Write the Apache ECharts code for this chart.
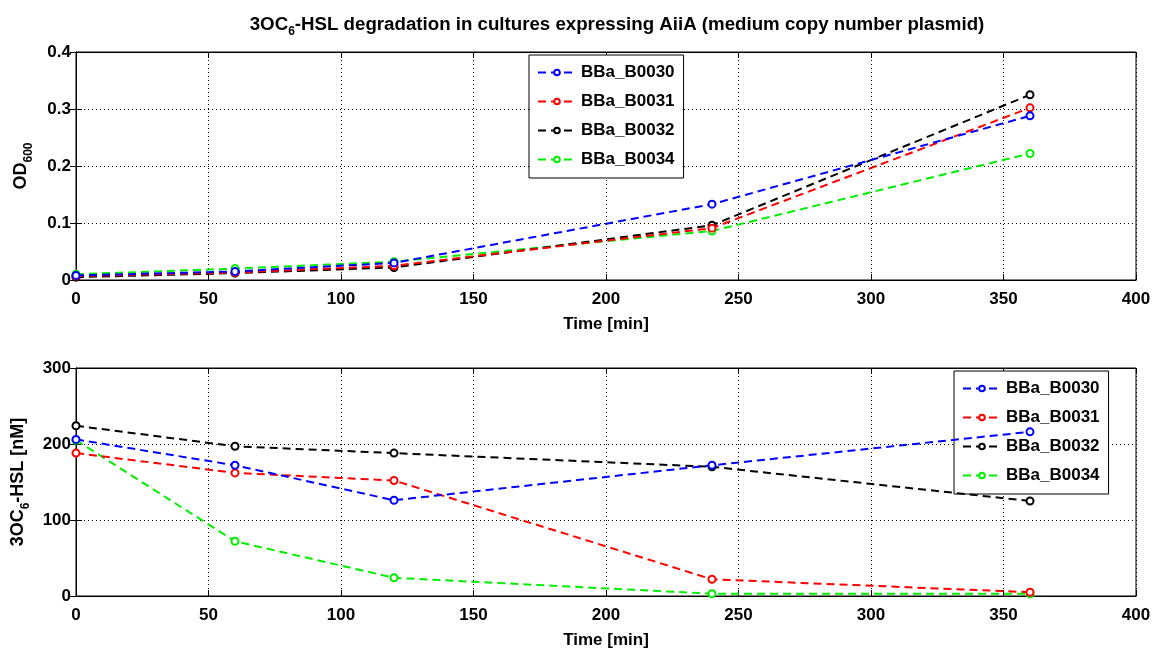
<!DOCTYPE html>
<html>
<head>
<meta charset="utf-8">
<script src="https://cdn.jsdelivr.net/npm/echarts@6/dist/echarts.min.js"></script>
<style>
  html, body { margin: 0; padding: 0; background: #fff; }
  #chart { width: 1162px; height: 653px; }
</style>
</head>
<body>
<div id="chart"></div>
<script>
// sampling times [min]
var times = [0, 60, 120, 240, 360]
var names = ['BBa_B0030', 'BBa_B0031', 'BBa_B0032', 'BBa_B0034']
var colors = ['#0000ff', '#ff0000', '#000000', '#00ee00']

// OD600
var odB0030 = [0.008, 0.015, 0.030, 0.133, 0.288]
var odB0031 = [0.007, 0.013, 0.025, 0.091, 0.302]
var odB0032 = [0.005, 0.012, 0.022, 0.096, 0.325]
var odB0034 = [0.010, 0.020, 0.032, 0.086, 0.222]

// 3OC6-HSL [nM]
var hslB0030 = [206, 172, 126, 172, 216]
var hslB0031 = [188, 162, 152, 22, 5]
var hslB0032 = [224, 197, 188, 170, 125]
var hslB0034 = [205, 72, 24, 3, 3]

var font = 'Liberation Sans, Arial, sans-serif'
var od = [odB0030, odB0031, odB0032, odB0034]
var hsl = [hslB0030, hslB0031, hslB0032, hslB0034]

function pairs (ys) {
  return times.map(function (t, i) { return [t, ys[i]] })
}

function xAxisFor (idx, withLabel) {
  return {
    type: 'value',
    gridIndex: idx,
    min: 0,
    max: 400,
    interval: 50,
    position: withLabel ? 'bottom' : 'top',
    name: withLabel ? 'Time [min]' : '',
    nameLocation: 'middle',
    nameGap: 36,
    nameTextStyle: { color: '#000', fontWeight: 'bold', fontSize: 17, fontFamily: font },
    axisLine: { show: true, onZero: false, lineStyle: { color: '#000', width: 1 } },
    axisTick: { show: true, inside: true, length: 6, lineStyle: { color: '#000' } },
    axisLabel: { show: withLabel, color: '#000', fontWeight: 'bold', fontSize: 17, fontFamily: font, margin: 11 },
    splitLine: { show: withLabel, lineStyle: { color: '#000', type: [1, 3], width: 1 } }
  }
}

function yAxisFor (idx, max, interval, name, withLabel) {
  return {
    type: 'value',
    gridIndex: idx,
    min: 0,
    max: max,
    interval: interval,
    position: withLabel ? 'left' : 'right',
    name: withLabel ? name : '',
    nameLocation: 'middle',
    nameGap: 41,
    nameRotate: 90,
    nameTextStyle: {
      color: '#000',
      fontWeight: 'bold',
      fontSize: 18,
      fontFamily: font,
      rich: {
        sub: { fontSize: 12, fontWeight: 'bold', fontFamily: font, color: '#000', padding: [15, 0, 0, 0] }
      }
    },
    axisLine: { show: true, lineStyle: { color: '#000', width: 1 } },
    axisTick: { show: true, inside: true, length: 6, lineStyle: { color: '#000' } },
    axisLabel: { show: withLabel, color: '#000', fontWeight: 'bold', fontSize: 17, fontFamily: font, margin: 5 },
    splitLine: { show: withLabel, lineStyle: { color: '#000', type: [1, 3], width: 1 } }
  }
}

var series = []
var sets = [od, hsl]
sets.forEach(function (set, g) {
  set.forEach(function (ys, i) {
    series.push({
      name: names[i],
      type: 'line',
      xAxisIndex: g * 2,
      yAxisIndex: g * 2,
      data: pairs(ys),
      symbol: 'emptyCircle',
      symbolSize: 7,
      showSymbol: true,
      color: colors[i],
      lineStyle: { width: 2, type: [8, 5], color: colors[i] },
      itemStyle: { color: colors[i], borderColor: colors[i], borderWidth: 1.5 },
      animation: false,
      z: 10 - i
    })
  })
})

function legendFor (left, top) {
  return {
    orient: 'vertical',
    left: left,
    top: top,
    data: names,
    backgroundColor: '#fff',
    borderColor: '#000',
    borderWidth: 1,
    padding: [9, 9, 10, 8],
    itemGap: 12,
    itemWidth: 38,
    itemHeight: 7,
    textStyle: { color: '#000', fontWeight: 'bold', fontSize: 17, fontFamily: font },
    selectedMode: false
  }
}

var myChart = echarts.init(document.getElementById('chart'))
var option = {
  backgroundColor: '#fff',
  animation: false,
  title: {
    text: '3OC{sub|6}-HSL degradation in cultures expressing AiiA (medium copy number plasmid)',
    left: 612,
    top: 7,
    textAlign: 'center',
    textStyle: {
      color: '#000',
      fontWeight: 'bold',
      fontSize: 18.7,
      fontFamily: font,
      rich: {
        sub: { fontSize: 12, fontWeight: 'bold', fontFamily: font, color: '#000', padding: [14, 0, 0, 0] }
      }
    }
  },
  grid: [
    { left: 76, right: 26, top: 52, height: 228, show: true, borderColor: '#000', borderWidth: 1, outerBoundsMode: 'none' },
    { left: 76, right: 26, top: 368, height: 228, show: true, borderColor: '#000', borderWidth: 1, outerBoundsMode: 'none' }
  ],
  legend: [legendFor(529, 55), legendFor(954, 371)],
  xAxis: [xAxisFor(0, true), xAxisFor(0, false), xAxisFor(1, true), xAxisFor(1, false)],
  yAxis: [
    yAxisFor(0, 0.4, 0.1, 'OD{sub|600}', true),
    yAxisFor(0, 0.4, 0.1, '', false),
    yAxisFor(1, 300, 100, '3OC{sub|6}-HSL [nM]', true),
    yAxisFor(1, 300, 100, '', false)
  ],
  series: series
}
myChart.setOption(option)
</script>
</body>
</html>
